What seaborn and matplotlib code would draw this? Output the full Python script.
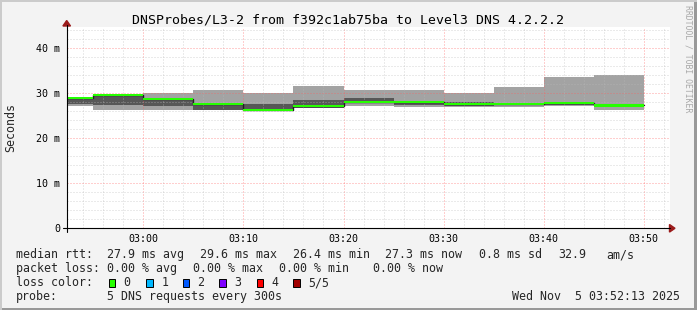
import matplotlib
matplotlib.use("Agg")
import matplotlib.pyplot as plt
import seaborn as sns
import numpy as np
from matplotlib.patches import Rectangle, Polygon
from matplotlib.lines import Line2D
from matplotlib.ticker import MultipleLocator, FixedLocator

# ---------------- DATA ----------------
title = "DNSProbes/L3-2 from f392c1ab75ba to Level3 DNS 4.2.2.2"
bin_end = ["02:55", "03:00", "03:05", "03:10", "03:15", "03:20",
           "03:25", "03:30", "03:35", "03:40", "03:45", "03:50"]
ping_min = [27.1, 26.4, 26.3, 26.2, 26.3, 26.7, 27.1, 27.0, 27.0, 27.0, 27.2, 26.4]
ping_lo  = [27.7, 27.4, 27.1, 26.3, 26.35, 26.75, 27.9, 27.4, 27.1, 27.6, 27.3, 27.0]
median   = [28.9, 29.6, 28.8, 27.6, 26.4, 27.2, 28.1, 28.0, 27.7, 27.7, 27.9, 27.3]
ping_hi  = [29.1, 29.8, 28.9, 27.7, 27.7, 28.6, 29.0, 28.1, 28.1, 27.9, 28.1, 27.5]
ping_max = [29.2, 29.9, 30.1, 30.7, 30.1, 31.6, 30.7, 30.8, 30.1, 31.4, 33.7, 34.1]
step_minutes = 5
x_range = ["02:52:20", "03:52:38"]
x_tick_labels = ["03:00", "03:10", "03:20", "03:30", "03:40", "03:50"]
y_tick_values = [0, 10, 20, 30, 40]
y_tick_labels = ["0", "10 m", "20 m", "30 m", "40 m"]
y_top = 44.75
rtt_stats = ["27.9 ms avg", "29.6 ms max", "26.4 ms min", "27.3 ms now", "0.8 ms sd", "32.9", "am/s"]
loss_stats = ["0.00 % avg", "0.00 % max", "0.00 % min", "0.00 % now"]
loss_labels = ["0", "1", "2", "3", "4", "5/5"]
loss_colors = ["#26ff00", "#00b8ff", "#0059ff", "#7e00ff", "#ff0000", "#a10000"]
probe_text = "5 DNS requests every 300s"
date_text = "Wed Nov  5 03:52:13 2025"
watermark = "RRDTOOL / TOBI OETIKER"

# ---------------- helpers ----------------
def to_min(s):
    parts = [int(p) for p in s.split(":")]
    m = parts[0] * 60 + parts[1]
    if len(parts) > 2:
        m += parts[2] / 60.0
    return m

W, H = 697, 310
def fx(x):
    return x / W
def fy(y):
    return 1 - y / H

sns.set_theme(style="white")
plt.rcParams["font.family"] = ["DejaVu Sans Mono", "DejaVu Sans"]

BG = "#F3F3F3"
fig = plt.figure(figsize=(W / 100, H / 100), dpi=100, facecolor=BG)

# axes geometry (pixels)
ax_l, ax_r, ax_t, ax_b = 66.7, 670.0, 27.0, 228.3
ax = fig.add_axes([fx(ax_l), fy(ax_b), (ax_r - ax_l) / W, (ax_b - ax_t) / H])
ax.set_facecolor("white")

ends = np.array([to_min(t) for t in bin_end], dtype=float)
starts = ends - step_minutes
xs = np.append(starts, ends[-1])
def ext(v):
    v = np.asarray(v, dtype=float)
    return np.append(v, v[-1])

LIGHT = "#A3A3A3"
DARK = "#575757"
ax.fill_between(xs, ext(ping_min), ext(ping_max), step="post", color=LIGHT, lw=0, zorder=1)
ax.fill_between(xs, ext(ping_lo), ext(ping_hi), step="post", color=DARK, lw=0, zorder=1.1)

sns.lineplot(x=xs, y=ext(median), drawstyle="steps-post", color="#202020",
             lw=1.0, ax=ax, estimator=None, sort=False, zorder=2.9)
half = 0.23
ax.fill_between(xs, ext(median) - half, ext(median) + half, step="post",
                color=loss_colors[0], lw=0, zorder=3)

ax.set_xlim(to_min(x_range[0]), to_min(x_range[1]))
ax.set_ylim(0, y_top)

ax.xaxis.set_major_locator(FixedLocator([to_min(t) for t in x_tick_labels]))
ax.set_xticklabels(x_tick_labels)
ax.xaxis.set_minor_locator(MultipleLocator(2))
ax.yaxis.set_major_locator(FixedLocator(y_tick_values))
ax.set_yticklabels(y_tick_labels)
ax.yaxis.set_minor_locator(MultipleLocator(2))

ax.set_axisbelow(False)
ax.grid(which="minor", color="#BABABA", alpha=0.6, ls=(0, (1, 2)), lw=0.72)
ax.grid(which="major", color="#FF5F5F", alpha=0.6, ls=(0, (1, 2)), lw=0.72)

ax.tick_params(which="major", length=2.2, width=0.72, color="black",
               labelsize=7.2, labelcolor="black", direction="out")
ax.tick_params(which="minor", length=1.2, width=0.72, color="black", direction="out")
ax.tick_params(axis="x", which="major", pad=2.0)
ax.tick_params(axis="y", which="major", pad=2.6)
for s in ax.spines.values():
    s.set_visible(False)

# axis lines and arrows
ARROW = "#9B1B1B"
fig.add_artist(Line2D([fx(62.7), fx(670)], [fy(ax_b), fy(ax_b)], color="black", lw=0.8))
fig.add_artist(Line2D([fx(ax_l), fx(ax_l)], [fy(232), fy(25)], color="black", lw=0.8))
fig.add_artist(Polygon([[fx(ax_l), fy(20.5)], [fx(ax_l - 3.8), fy(26)], [fx(ax_l + 3.8), fy(26)]],
                       closed=True, color=ARROW, transform=fig.transFigure))
fig.add_artist(Polygon([[fx(675), fy(ax_b)], [fx(669.5), fy(ax_b - 3.8)], [fx(669.5), fy(ax_b + 3.8)]],
                       closed=True, color=ARROW, transform=fig.transFigure))

# frame border (3D shade)
fig.add_artist(Rectangle((0, 0), 1, fy(H - 2) , transform=fig.transFigure, color="#999999", lw=0, zorder=-5))
fig.add_artist(Rectangle((fx(W - 3), 0), fx(3), 1, transform=fig.transFigure, color="#999999", lw=0, zorder=-5))
fig.add_artist(Rectangle((0, fy(2)), 1, fx(0) + 2 / H, transform=fig.transFigure, color="#CBCBCB", lw=0, zorder=-5))
fig.add_artist(Rectangle((0, 0), fx(2), 1, transform=fig.transFigure, color="#CBCBCB", lw=0, zorder=-5))

# texts
fig.text(fx(347.8), fy(23.5), title, ha="center", va="baseline", fontsize=9.55, color="black")
fig.text(fx(11), fy(127), "Seconds", ha="center", va="center", rotation=90, fontsize=8.4)
fig.text(fx(688), fy(59), watermark, ha="center", va="center", rotation=270,
         fontsize=5.9, color="#A8A8A8")

LEG = 8.37
fig.text(fx(16), fy(258), "median rtt:", ha="left", va="baseline", fontsize=LEG)
for xp, s in zip([107.3, 200, 292.7, 385, 479.3, 558.3, 606.7], rtt_stats):
    fig.text(fx(xp), fy(258), s, ha="left", va="baseline", fontsize=LEG)

fig.text(fx(16), fy(272), "packet loss:", ha="left", va="baseline", fontsize=LEG)
for xp, s in zip([107.3, 193.3, 279.3, 373.3], loss_stats):
    fig.text(fx(xp), fy(272), s, ha="left", va="baseline", fontsize=LEG)

fig.text(fx(16), fy(286), "loss color:", ha="left", va="baseline", fontsize=LEG)
for bx, lx, lab, col in zip([108.7, 146, 182.7, 219.3, 256.7, 293.3],
                            [123.3, 161.3, 197.3, 234.7, 271.3, 308], loss_labels, loss_colors):
    fig.add_artist(Rectangle((fx(bx), fy(286.5)), 6.7 / W, 7.7 / H, transform=fig.transFigure,
                             facecolor=col, edgecolor="black", lw=0.7))
    fig.text(fx(lx), fy(286), lab, ha="left", va="baseline", fontsize=LEG)

fig.text(fx(16), fy(300), "probe:", ha="left", va="baseline", fontsize=LEG)
fig.text(fx(107.3), fy(300), probe_text, ha="left", va="baseline", fontsize=LEG)
fig.text(fx(680), fy(300), date_text, ha="right", va="baseline", fontsize=LEG)

fig.savefig("out.png", dpi=100, facecolor=BG)
